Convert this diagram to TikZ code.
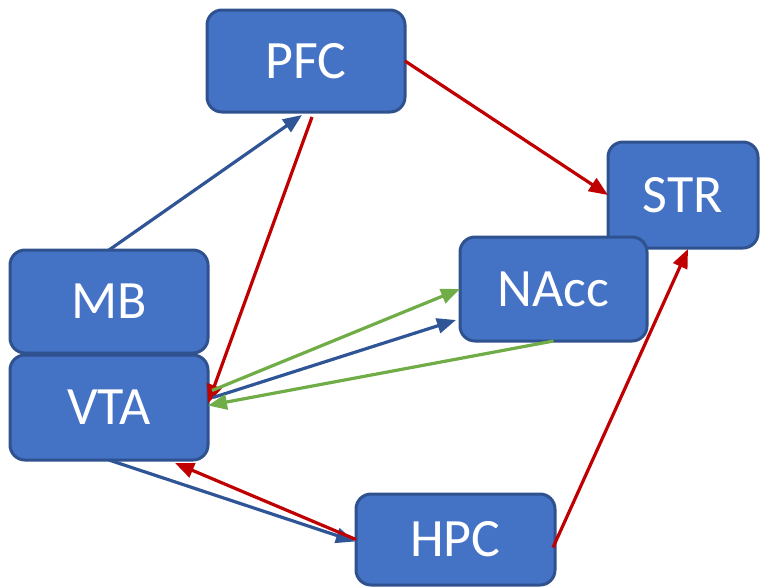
\documentclass[tikz,border=0pt]{standalone}
\usepackage{fontspec}
\setmainfont{Carlito}
\usetikzlibrary{arrows.meta}
\definecolor{boxfill}{HTML}{4472C4}
\definecolor{boxline}{HTML}{2F528F}
\definecolor{ared}{HTML}{C00000}
\definecolor{ablue}{HTML}{2F5597}
\definecolor{agreen}{HTML}{70AD47}
\begin{document}
\begin{tikzpicture}[x=1pt,y=-1pt,
  region/.style={draw=boxline,fill=boxfill,line width=3pt,rounded corners=15pt,
    text=white,font=\fontsize{54}{60}\selectfont,inner sep=0pt,outer sep=0pt},
  conn/.style={line width=3.2pt,-{Triangle[length=19pt,width=15pt]}}]
\useasboundingbox (0,0) rectangle (760,587);
\node[region,minimum width=198pt,minimum height=102pt] (PFC) at (306,61) {PFC};
\node[region,minimum width=150pt,minimum height=106pt] (STR) at (683,195) {STR};
\node[region,minimum width=187pt,minimum height=104pt] (NAcc) at (553.5,289) {NAcc};
\node[region,minimum width=198pt,minimum height=103pt] (MB) at (109,301.5) {MB};
\node[region,minimum width=198pt,minimum height=105pt] (VTA) at (109,407.5) {VTA};
\node[region,minimum width=199pt,minimum height=91pt] (HPC) at (455.5,539.5) {HPC};
% connectors
\draw[conn,ablue] (MB.north) -- ([xshift=-4pt,yshift=-3pt]PFC.south);
\draw[conn,ared] ([xshift=6pt,yshift=-5pt]PFC.south) -- ([yshift=4pt]VTA.east);
\draw[conn,ared] (PFC.east) -- (STR.west);
\draw[conn,agreen] ([xshift=4pt,yshift=17pt]VTA.east) -- (NAcc.west);
\draw[conn,ablue] ([xshift=5pt,yshift=10pt]VTA.east) -- ([xshift=-4pt,yshift=-31pt]NAcc.west);
\draw[conn,agreen] (NAcc.south) -- ([yshift=2pt]VTA.east);
\draw[conn,ablue] (VTA.south) -- ([xshift=-1pt,yshift=-2pt]HPC.west);
\draw[conn,ared] ([yshift=0pt]HPC.west) -- ([xshift=66pt,yshift=-3pt]VTA.south);
\draw[conn,ared] ([xshift=-2pt,yshift=-8pt]HPC.east) -- ([xshift=5pt,yshift=-1pt]STR.south);
\end{tikzpicture}
\end{document}
